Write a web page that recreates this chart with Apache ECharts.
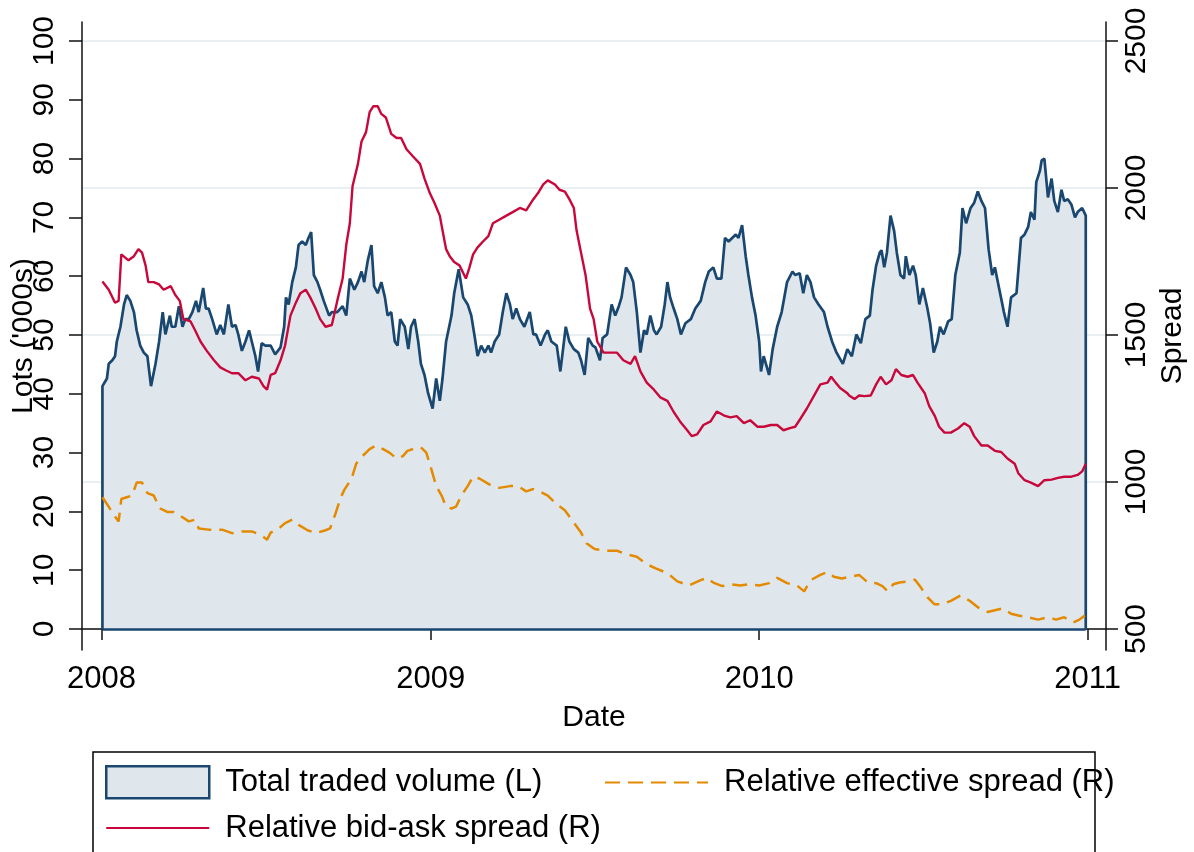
<!DOCTYPE html>
<html>
<head>
<meta charset="utf-8">
<title>Traded volume and spreads</title>
<script src="https://cdn.jsdelivr.net/npm/echarts@6/dist/echarts.min.js"></script>
<style>
  html, body { margin: 0; padding: 0; background: #fff; }
  #chart { width: 1194px; height: 852px; }
</style>
</head>
<body>
<div id="chart"></div>
<script>
// ---- data (dates are trading dates, values on each axis' scale) ----
var yearLabels = ['2008', '2009', '2010', '2011'];
var leftTicks = [0, 10, 20, 30, 40, 50, 60, 70, 80, 90, 100];
var rightTicks = [500, 1000, 1500, 2000, 2500];

// Total traded volume, lots ('000s), left axis
var volumeDates = [
  '2008-01-02','2008-01-07','2008-01-09','2008-01-13','2008-01-16','2008-01-18','2008-01-22','2008-01-26','2008-01-29','2008-02-02',
  '2008-02-06','2008-02-09','2008-02-13','2008-02-17','2008-02-21','2008-02-22','2008-02-25','2008-03-01','2008-03-05','2008-03-09',
  '2008-03-12','2008-03-17','2008-03-19','2008-03-23','2008-03-27','2008-03-31','2008-04-03','2008-04-07','2008-04-11','2008-04-15',
  '2008-04-18','2008-04-23','2008-04-26','2008-04-29','2008-05-03','2008-05-08','2008-05-12','2008-05-16','2008-05-21','2008-05-25',
  '2008-05-29','2008-06-01','2008-06-05','2008-06-09','2008-06-13','2008-06-16','2008-06-20','2008-06-23','2008-06-27','2008-07-01',
  '2008-07-07','2008-07-12','2008-07-18','2008-07-22','2008-07-24','2008-07-27','2008-07-31','2008-08-04','2008-08-07','2008-08-11',
  '2008-08-15','2008-08-18','2008-08-21','2008-08-24','2008-08-28','2008-08-31','2008-09-04','2008-09-10','2008-09-13','2008-09-19',
  '2008-09-25','2008-09-29','2008-10-03','2008-10-08','2008-10-12','2008-10-16','2008-10-19','2008-10-23','2008-10-27','2008-10-30',
  '2008-11-03','2008-11-07','2008-11-11','2008-11-14','2008-11-18','2008-11-22','2008-11-25','2008-11-28','2008-12-03','2008-12-07',
  '2008-12-10','2008-12-14','2008-12-18','2008-12-21','2008-12-25','2008-12-29','2009-01-03','2009-01-07','2009-01-11','2009-01-14',
  '2009-01-18','2009-01-24','2009-01-27','2009-02-01','2009-02-06','2009-02-11','2009-02-15','2009-02-19','2009-02-22','2009-02-26',
  '2009-03-02','2009-03-06','2009-03-09','2009-03-13','2009-03-18','2009-03-22','2009-03-26','2009-03-30','2009-04-02','2009-04-06',
  '2009-04-10','2009-04-15','2009-04-21','2009-04-25','2009-04-28','2009-05-03','2009-05-08','2009-05-11','2009-05-15','2009-05-21',
  '2009-05-25','2009-05-31','2009-06-04','2009-06-09','2009-06-14','2009-06-17','2009-06-21','2009-06-25','2009-06-30','2009-07-03',
  '2009-07-08','2009-07-11','2009-07-16','2009-07-21','2009-07-25','2009-07-29','2009-08-01','2009-08-06','2009-08-11','2009-08-14',
  '2009-08-18','2009-08-22','2009-08-26','2009-08-29','2009-09-02','2009-09-06','2009-09-09','2009-09-14','2009-09-18','2009-09-21',
  '2009-09-24','2009-09-28','2009-10-02','2009-10-06','2009-10-11','2009-10-17','2009-10-22','2009-10-28','2009-11-02','2009-11-06',
  '2009-11-11','2009-11-15','2009-11-20','2009-11-24','2009-11-28','2009-12-02','2009-12-06','2009-12-09','2009-12-13','2009-12-17',
  '2009-12-20','2009-12-24','2009-12-28','2010-01-01','2010-01-03','2010-01-06','2010-01-12','2010-01-16','2010-01-21','2010-01-26',
  '2010-02-01','2010-02-07','2010-02-10','2010-02-15','2010-02-19','2010-02-23','2010-02-27','2010-03-03','2010-03-08','2010-03-14',
  '2010-03-18','2010-03-23','2010-03-28','2010-04-04','2010-04-09','2010-04-14','2010-04-19','2010-04-24','2010-04-29','2010-05-04',
  '2010-05-07','2010-05-11','2010-05-15','2010-05-17','2010-05-20','2010-05-23','2010-05-27','2010-05-31','2010-06-03','2010-06-07',
  '2010-06-11','2010-06-13','2010-06-17','2010-06-21','2010-06-24','2010-06-28','2010-07-02','2010-07-07','2010-07-10','2010-07-14',
  '2010-07-18','2010-07-21','2010-07-25','2010-07-30','2010-08-03','2010-08-07','2010-08-12','2010-08-15','2010-08-19','2010-08-24',
  '2010-08-28','2010-09-01','2010-09-05','2010-09-09','2010-09-13','2010-09-17','2010-09-20','2010-09-25','2010-09-30','2010-10-04',
  '2010-10-08','2010-10-14','2010-10-19','2010-10-23','2010-10-27','2010-10-30','2010-11-03','2010-11-05','2010-11-09','2010-11-11',
  '2010-11-14','2010-11-18','2010-11-22','2010-11-25','2010-11-29','2010-12-03','2010-12-06','2010-12-10','2010-12-14','2010-12-18',
  '2010-12-21','2010-12-26','2010-12-30'
];
var volumeValues = [
  41.3,42.6,45.1,45.7,46.4,48.9,51.4,55.2,56.8,55.8,
  53.9,50.8,48.2,47.0,46.4,45.1,41.3,45.1,48.9,53.9,
  50.1,53.3,51.4,51.4,54.9,51.4,52.7,52.7,53.9,55.8,
  53.9,58.0,54.5,54.5,52.7,50.1,51.7,50.1,55.2,51.4,
  51.7,50.1,47.3,48.9,50.8,48.9,46.4,43.8,48.6,48.2,
  48.2,46.7,47.9,51.4,56.4,55.2,59.0,61.5,65.3,65.9,
  65.3,66.5,67.5,60.2,59.0,57.7,55.8,53.3,53.9,53.9,
  54.9,53.3,59.6,57.7,59.0,60.8,59.0,62.7,65.3,58.3,
  57.1,59.0,56.4,53.3,53.9,48.9,48.2,52.7,51.4,47.6,
  51.4,52.7,48.9,45.1,43.2,40.1,37.5,42.6,38.8,42.6,
  48.9,53.3,57.1,61.2,56.4,55.2,53.3,49.5,46.4,48.2,
  47.0,48.2,47.0,48.9,50.1,53.9,57.1,55.2,52.7,54.5,
  52.7,51.4,53.9,50.1,50.1,48.2,50.1,50.8,48.9,48.2,
  43.8,51.4,48.9,47.6,47.0,45.7,43.2,49.5,48.2,47.9,
  45.7,49.5,50.1,55.2,53.3,54.9,56.4,61.5,60.2,59.0,
  53.9,47.0,50.8,50.1,53.3,50.8,50.1,51.4,55.2,59.0,
  56.4,54.5,52.7,50.1,52.0,52.7,54.5,55.8,59.0,60.8,
  61.5,59.6,59.6,66.5,65.9,66.5,67.1,66.5,68.7,63.4,
  60.2,56.4,53.3,48.9,43.8,46.4,43.2,47.6,51.4,53.9,
  59.0,60.8,60.2,60.5,57.1,60.2,59.0,56.4,55.2,53.9,
  51.4,48.9,47.0,45.1,47.6,46.4,50.1,48.6,52.7,53.3,
  57.7,61.8,64.0,64.4,61.5,64.0,70.3,67.7,64.0,60.2,
  59.6,63.4,60.2,61.8,60.2,55.2,58.0,54.5,52.0,47.0,
  48.9,51.4,50.1,52.3,52.7,60.2,64.0,71.6,69.0,71.6,
  72.5,74.4,72.8,71.6,64.6,60.2,61.5,57.7,53.9,51.4,
  56.4,57.1,66.5,67.1,68.4,70.9,69.6,76.0,77.9,79.7,
  80.0,73.4,76.6,72.8,70.9,74.7,72.8,73.1,72.2,70.0,
  70.9,71.6,70.3
];

// Relative bid-ask spread, right axis
var bidAskDates = [
  '2008-01-02','2008-01-09','2008-01-16','2008-01-20','2008-01-23','2008-01-31','2008-02-06','2008-02-11','2008-02-15','2008-02-19',
  '2008-02-22','2008-02-28','2008-03-05','2008-03-10','2008-03-18','2008-03-23','2008-03-28','2008-04-01','2008-04-09','2008-04-14',
  '2008-04-20','2008-04-27','2008-05-05','2008-05-12','2008-05-18','2008-05-25','2008-06-01','2008-06-09','2008-06-16','2008-06-24',
  '2008-06-29','2008-07-03','2008-07-07','2008-07-12','2008-07-18','2008-07-23','2008-07-29','2008-08-04','2008-08-09','2008-08-15',
  '2008-08-20','2008-08-26','2008-08-31','2008-09-06','2008-09-13','2008-09-19','2008-09-25','2008-09-29','2008-10-03','2008-10-06',
  '2008-10-12','2008-10-16','2008-10-21','2008-10-25','2008-10-29','2008-11-03','2008-11-07','2008-11-12','2008-11-18','2008-11-24',
  '2008-11-29','2008-12-05','2008-12-12','2008-12-20','2008-12-25','2008-12-31','2009-01-05','2009-01-11','2009-01-14','2009-01-18',
  '2009-01-22','2009-01-27','2009-02-02','2009-02-09','2009-02-13','2009-02-17','2009-02-22','2009-02-28','2009-03-06','2009-03-11',
  '2009-03-18','2009-03-26','2009-04-02','2009-04-10','2009-04-17','2009-04-25','2009-04-30','2009-05-06','2009-05-11','2009-05-19',
  '2009-05-24','2009-05-30','2009-06-04','2009-06-09','2009-06-12','2009-06-17','2009-06-22','2009-06-27','2009-07-01','2009-07-05',
  '2009-07-12','2009-07-20','2009-07-27','2009-08-03','2009-08-11','2009-08-16','2009-08-22','2009-08-29','2009-09-06','2009-09-13',
  '2009-09-21','2009-09-28','2009-10-05','2009-10-13','2009-10-18','2009-10-24','2009-10-31','2009-11-08','2009-11-15','2009-11-23',
  '2009-11-30','2009-12-07','2009-12-15','2009-12-22','2009-12-30','2010-01-06','2010-01-14','2010-01-21','2010-01-28','2010-02-05',
  '2010-02-10','2010-02-16','2010-02-23','2010-03-03','2010-03-10','2010-03-18','2010-03-22','2010-03-27','2010-04-01','2010-04-09',
  '2010-04-11','2010-04-17','2010-04-22','2010-04-28','2010-05-05','2010-05-11','2010-05-16','2010-05-22','2010-05-28','2010-06-02',
  '2010-06-08','2010-06-15','2010-06-21','2010-06-26','2010-07-04','2010-07-09','2010-07-15','2010-07-20','2010-07-26','2010-08-02',
  '2010-08-10','2010-08-17','2010-08-23','2010-08-28','2010-09-05','2010-09-12','2010-09-20','2010-09-27','2010-10-04','2010-10-12',
  '2010-10-16','2010-10-23','2010-10-30','2010-11-07','2010-11-14','2010-11-22','2010-11-29','2010-12-06','2010-12-14','2010-12-21',
  '2010-12-26','2010-12-30'
];
var bidAskValues = [
  1682,1654,1610,1616,1774,1754,1768,1792,1780,1736,
  1680,1680,1672,1654,1666,1636,1616,1554,1546,1516,
  1478,1446,1414,1390,1380,1370,1370,1346,1358,1352,
  1326,1314,1364,1370,1414,1464,1566,1610,1642,1654,
  1628,1590,1554,1528,1534,1616,1692,1806,1880,2006,
  2082,2158,2190,2258,2278,2278,2252,2240,2184,2170,
  2170,2132,2108,2082,2032,1982,1950,1906,1856,1792,
  1768,1748,1736,1692,1730,1774,1798,1818,1836,1880,
  1892,1906,1918,1932,1924,1962,1982,2012,2026,2012,
  1994,1988,1962,1932,1856,1780,1704,1590,1554,1478,
  1440,1440,1440,1414,1402,1428,1376,1338,1314,1288,
  1276,1238,1206,1176,1156,1162,1194,1206,1240,1226,
  1220,1224,1200,1210,1188,1188,1194,1194,1176,1184,
  1188,1216,1250,1294,1332,1338,1358,1338,1320,1302,
  1294,1282,1294,1292,1294,1332,1358,1332,1346,1384,
  1364,1358,1364,1338,1302,1258,1226,1188,1168,1168,
  1182,1200,1188,1156,1124,1124,1106,1102,1080,1062,
  1030,1006,998,986,1006,1008,1014,1018,1018,1024,
  1036,1062
];

// Relative effective spread, right axis
var effectiveDates = [
  '2008-01-02','2008-01-09','2008-01-15','2008-01-20','2008-01-23','2008-01-29','2008-02-04','2008-02-09','2008-02-15','2008-02-21',
  '2008-02-28','2008-03-06','2008-03-14','2008-03-21','2008-03-31','2008-04-07','2008-04-14','2008-04-18','2008-04-29','2008-05-14',
  '2008-05-25','2008-06-05','2008-06-16','2008-06-26','2008-07-03','2008-07-07','2008-07-16','2008-07-23','2008-07-31','2008-08-07',
  '2008-08-17','2008-08-26','2008-09-06','2008-09-11','2008-09-17','2008-09-23','2008-09-27','2008-10-05','2008-10-10','2008-10-17',
  '2008-10-25','2008-11-01','2008-11-09','2008-11-16','2008-11-24','2008-12-01','2008-12-06','2008-12-14','2008-12-21','2008-12-27',
  '2009-01-01','2009-01-07','2009-01-13','2009-01-18','2009-01-24','2009-01-29','2009-02-04','2009-02-11','2009-02-17','2009-02-24',
  '2009-03-07','2009-03-18','2009-03-30','2009-04-08','2009-04-17','2009-04-25','2009-05-02','2009-05-11','2009-05-21','2009-05-30',
  '2009-06-08','2009-06-17','2009-06-23','2009-07-02','2009-07-16','2009-07-27','2009-08-07','2009-08-18','2009-08-28','2009-09-08',
  '2009-09-21','2009-10-02','2009-10-15','2009-10-28','2009-11-04','2009-11-11','2009-11-21','2009-11-30','2009-12-11','2009-12-20',
  '2010-01-01','2010-01-12','2010-01-21','2010-02-01','2010-02-12','2010-02-20','2010-02-27','2010-03-10','2010-03-18','2010-03-25',
  '2010-04-03','2010-04-13','2010-04-22','2010-05-02','2010-05-11','2010-05-18','2010-05-24','2010-05-30','2010-06-06','2010-06-15',
  '2010-06-23','2010-06-30','2010-07-07','2010-07-15','2010-07-24','2010-08-02','2010-08-13','2010-08-23','2010-09-01','2010-09-12',
  '2010-09-20','2010-09-29','2010-10-08','2010-10-16','2010-10-27','2010-11-07','2010-11-18','2010-11-27','2010-12-06','2010-12-16',
  '2010-12-23','2010-12-29'
];
var effectiveValues = [
  948,916,886,866,942,948,954,998,998,962,
  954,910,898,898,880,866,872,842,838,838,
  826,832,832,820,804,828,842,860,872,854,
  836,826,836,842,892,948,974,1012,1062,1088,
  1112,1124,1112,1100,1080,1088,1106,1114,1118,1100,
  1050,986,954,916,910,916,954,986,1018,1012,
  992,980,986,986,968,976,968,954,924,904,
  866,828,792,772,766,766,754,746,722,706,
  690,662,648,666,674,658,646,652,648,652,
  648,656,674,656,648,628,666,684,694,678,
  672,678,684,658,656,646,628,652,658,662,
  668,640,608,584,584,596,614,596,574,558,
  564,570,552,546,540,532,540,532,540,522,
  532,546
];

(function () {
  'use strict';

  var FONT = '"Liberation Sans", Arial, Helvetica, sans-serif';
  var NAVY = '#1a476f';
  var AREA = '#dfe7ed';
  var RED = '#c8083a';
  var ORANGE = '#e48a00';
  var GRID = '#e8f0f2';
  var AXIS = '#111';

  // 'YYYY-MM-DD' -> local timestamp (x axis is a plain value axis in ms)
  function toTime(s) {
    var p = s.split('-');
    return new Date(+p[0], +p[1] - 1, +p[2]).getTime();
  }
  function zip(dates, values) {
    return dates.map(function (d, i) { return [toTime(d), values[i]]; });
  }

  // area outline drops to zero at both ends like the original
  var firstTime = toTime(volumeDates[0]);
  var lastTime = toTime(volumeDates[volumeDates.length - 1]);
  var volumeData = [[firstTime, 0]].concat(zip(volumeDates, volumeValues), [[lastTime, 0]]);

  var yearTickValues = yearLabels.map(function (y) { return new Date(+y, 0, 1).getTime(); });

  // plot frame: left axis 0 sits 21px above the x axis, 100 sits 19px below the top
  var leftMin = -3.57, leftMax = 103.23;
  var rightMin = 500 + 20 * leftMin, rightMax = 500 + 20 * leftMax;
  var xMin = new Date(2007, 11, 10, 7).getTime();
  var xMax = new Date(2011, 0, 21, 12).getTime();

  var legendText = { fontSize: 31, color: '#000', fontFamily: FONT, padding: [0, 0, 0, 11] };

  var chart = echarts.init(document.getElementById('chart'), null, { renderer: 'canvas' });

  var option = {
    animation: false,
    backgroundColor: '#fff',
    textStyle: { fontFamily: FONT },
    grid: { left: 82, right: 88, top: 22, bottom: 202, containLabel: false, outerBoundsMode: 'none' },
    // Stata-style two-column key: left column, then the right column
    legend: [{
      orient: 'vertical',
      left: 105,
      top: 765,
      padding: 0,
      itemGap: 13,
      itemWidth: 103,
      itemHeight: 32,
      selectedMode: false,
      textStyle: legendText,
      data: [
        { name: 'Total traded volume (L)', icon: 'rect',
          itemStyle: { color: AREA, borderColor: NAVY, borderWidth: 2.5 } },
        { name: 'Relative bid-ask spread (R)', itemStyle: { opacity: 0 } }
      ]
    }, {
      orient: 'vertical',
      left: 604,
      top: 767,
      padding: 0,
      itemWidth: 103,
      itemHeight: 32,
      selectedMode: false,
      textStyle: legendText,
      data: [
        { name: 'Relative effective spread (R)', itemStyle: { opacity: 0 } }
      ]
    }],
    graphic: [{
      type: 'rect',
      silent: true,
      z: 100,
      shape: { x: 93, y: 752, width: 1002, height: 160 },
      style: { fill: 'none', stroke: '#000', lineWidth: 1.5 }
    }],
    xAxis: {
      type: 'value',
      min: xMin,
      max: xMax,
      name: 'Date',
      nameLocation: 'middle',
      nameGap: 53,
      nameMoveOverlap: false,
      nameTextStyle: { fontSize: 30, color: '#000', fontFamily: FONT },
      axisLine: { lineStyle: { color: AXIS, width: 1.5 } },
      axisTick: { customValues: yearTickValues, length: 11, lineStyle: { color: AXIS, width: 1.5 } },
      axisLabel: {
        customValues: yearTickValues,
        margin: 14,
        fontSize: 31,
        color: '#000',
        fontFamily: FONT,
        formatter: function (v) { return yearLabels[yearTickValues.indexOf(v)] || ''; }
      },
      splitLine: { show: false }
    },
    yAxis: [{
      type: 'value',
      position: 'left',
      min: leftMin,
      max: leftMax,
      name: "Lots ('000s)",
      nameLocation: 'middle',
      nameRotate: 90,
      nameGap: 43,
      nameMoveOverlap: false,
      nameTextStyle: { fontSize: 30, color: '#000', fontFamily: FONT },
      axisLine: { show: true, lineStyle: { color: AXIS, width: 1.5 } },
      axisTick: { show: true, customValues: leftTicks, length: 13, lineStyle: { color: AXIS, width: 1.5 } },
      axisLabel: { customValues: leftTicks, rotate: 90, margin: 22, fontSize: 30, color: '#000', fontFamily: FONT },
      splitLine: { show: false }
    }, {
      type: 'value',
      position: 'right',
      min: rightMin,
      max: rightMax,
      name: 'Spread',
      nameLocation: 'middle',
      nameRotate: 90,
      nameGap: 52,
      nameMoveOverlap: false,
      nameTextStyle: { fontSize: 30, color: '#000', fontFamily: FONT },
      axisLine: { show: true, lineStyle: { color: AXIS, width: 1.5 } },
      axisTick: { show: true, customValues: rightTicks, length: 12, lineStyle: { color: AXIS, width: 1.5 } },
      axisLabel: {
        customValues: rightTicks, rotate: 90, margin: 16, fontSize: 30, color: '#000', fontFamily: FONT,
        formatter: function (v) { return String(v); }
      },
      splitLine: { show: true, lineStyle: { color: GRID, width: 2 } }
    }],
    series: [{
      name: 'Total traded volume (L)',
      type: 'line',
      yAxisIndex: 0,
      data: volumeData,
      symbol: 'none',
      silent: true,
      lineStyle: { color: NAVY, width: 2.7 },
      itemStyle: { color: NAVY },
      areaStyle: { color: AREA, opacity: 1 },
      markLine: {
        silent: true,
        symbol: 'none',
        label: { show: false },
        lineStyle: { color: NAVY, width: 2.5, type: 'solid' },
        data: [[{ coord: [firstTime, 0] }, { coord: [lastTime, 0] }]]
      }
    }, {
      name: 'Relative effective spread (R)',
      type: 'line',
      yAxisIndex: 1,
      data: zip(effectiveDates, effectiveValues),
      symbol: 'none',
      silent: true,
      lineStyle: { color: ORANGE, width: 2.5, type: [15, 8] },
      itemStyle: { color: ORANGE }
    }, {
      name: 'Relative bid-ask spread (R)',
      type: 'line',
      yAxisIndex: 1,
      data: zip(bidAskDates, bidAskValues),
      symbol: 'none',
      silent: true,
      lineStyle: { color: RED, width: 2.4 },
      itemStyle: { color: RED }
    }]
  };

  chart.setOption(option);
  window.addEventListener('resize', function () { chart.resize(); });
})();
</script>
</body>
</html>
